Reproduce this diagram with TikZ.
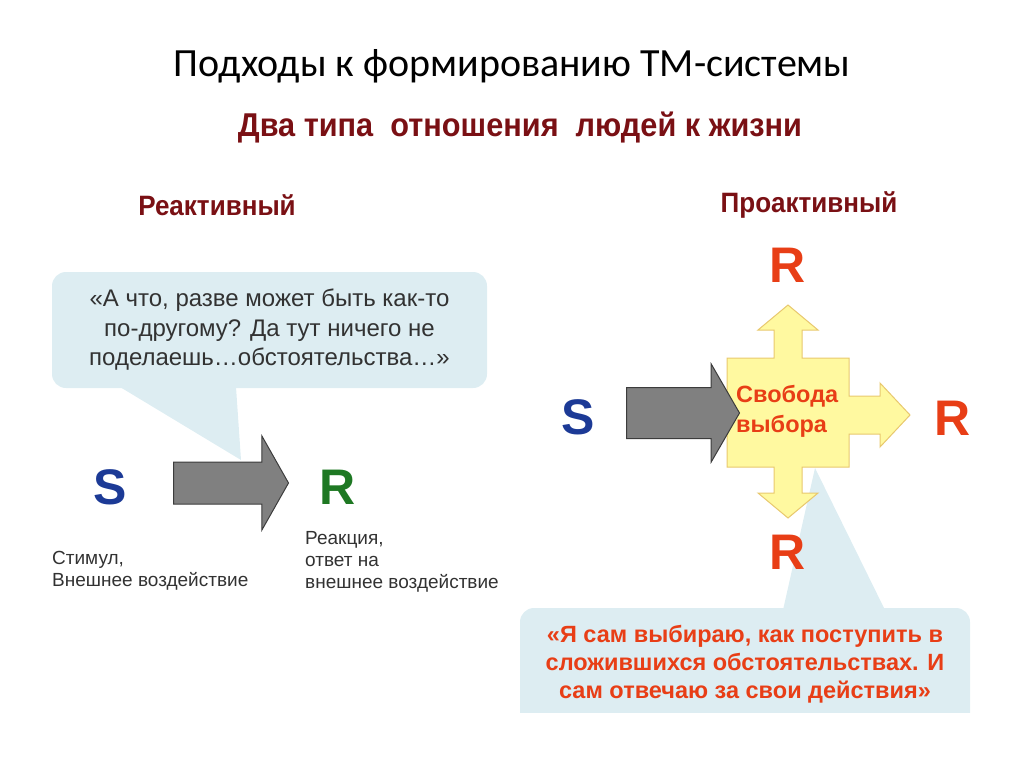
\documentclass[tikz,border=0pt]{standalone}
\usepackage{fontspec}
\setmainfont{Liberation Sans}
\newfontfamily\titlefont{Carlito}
\newfontfamily\narrowfont[FakeStretch=0.93]{Liberation Sans}
\usepackage{tikz}
\usetikzlibrary{shapes.arrows}
\usetikzlibrary{positioning}
\definecolor{bubbleblue}{RGB}{221,237,242}
\definecolor{arrowgray}{RGB}{128,128,128}
\definecolor{arrowedge}{RGB}{60,60,60}
\definecolor{crossyellow}{RGB}{255,249,160}
\definecolor{crossedge}{RGB}{232,200,110}
\definecolor{sblue}{RGB}{28,58,150}
\definecolor{rgreen}{RGB}{30,120,35}
\definecolor{rred}{RGB}{232,62,22}
\definecolor{headred}{RGB}{122,16,20}
\definecolor{textgray}{RGB}{50,50,50}
\newcommand{\fs}[2]{\fontsize{#1}{#2}\selectfont}

\begin{document}
\begin{tikzpicture}[x=1pt,y=-1pt,
		letter/.style={font=\fs{50}{50}\bfseries, inner sep=0pt},
		subhead/.style={font=\narrowfont\bfseries\fs{28}{30}, text=headred, inner sep=0pt},
		caption/.style={font=\fs{19}{22}, text=textgray, align=left, inner sep=0pt},
		grayarrow/.style={single arrow, draw=arrowedge, fill=arrowgray, line width=1pt, inner xsep=0pt, minimum width=0pt, shape border rotate=0}]
		\useasboundingbox (0,0) rectangle (1024,767);

		% Title
		\node[font=\titlefont\fs{40}{46}] (title) at (512,66) {Подходы к формированию ТМ-системы};
		\node[font=\narrowfont\bfseries\fs{33}{36}, text=headred] (types) at (520,128) {Два типа\ \ отношения\ \ людей к жизни};
		\node[subhead] (reactive) at (217,205) {Реактивный};
		\node[subhead] (proactive) at (809,205) {Проактивный};

		% Reactive side
		\node[fill=bubbleblue, rounded corners=14pt, minimum width=435, minimum height=116, align=center,
			font=\fs{24}{29.5}, text=textgray] (quote_re) at (269.5,330) {«А что, разве может быть как-то\\по-другому? Да тут ничего не\\поделаешь…обстоятельства…»};
		\coordinate (tail_re) at (241,460);
		\fill[bubbleblue] (120,387) -- (tail_re) -- (236,387) -- cycle;

		\node[letter, text=sblue] (S_re) at (110,487) {S};
		\node[letter, text=rgreen] (R_re) at (338,487) {R};
		\node[grayarrow, inner ysep=20.5, minimum height=115, single arrow head extend=26, single arrow tip angle=121,
			anchor=tail] (arrow_re) at (173,483) {};

		\node[caption, anchor=north west] (S_re_label) at (52,551) {Стимул,\\Внешнее воздействие};
		\node[caption, anchor=north west] (R_re_label) at (305,531) {Реакция,\\ответ на\\внешнее воздействие};

		% Proactive side
		\begin{scope}
			\clip (0,0) rectangle (1024,712);
			\node[fill=bubbleblue, rounded corners=14pt, minimum width=450, minimum height=124] (quote_pro) at (745,670) {};
		\end{scope}
		\node[align=center, font=\bfseries\fs{23.5}{28}, text=rred] (quote_pro_text) at (745,664) {«Я сам выбираю, как поступить в\\сложившихся обстоятельствах. И\\сам отвечаю за свои действия»};
		\coordinate (tail_pro) at (815,468);
		\fill[bubbleblue] (783,610) -- (tail_pro) -- (885,610) -- cycle;

		\draw[fill=crossyellow, draw=crossedge, line width=1pt] (727,358) -- (774,358) -- (774,330) -- (758,330) -- (788,305)
			-- (818,330) -- (802,330) -- (802,358) -- (849,358) -- (849,396) -- (880,396) -- (880,383) -- (910,415)
			-- (880,447) -- (880,434) -- (849,434) -- (849,467) -- (802,467) -- (802,493) -- (818,493) -- (788,518)
			-- (758,493) -- (774,493) -- (774,467) -- (727,467) -- cycle;

		\node[letter, text=sblue] (S_pro) at (578,417) {S};
		\node[grayarrow, inner ysep=25, minimum height=113, single arrow head extend=23.5, single arrow tip angle=120,
			anchor=tail] (arrow_pro) at (626,413) {};
		\node[align=left, anchor=west, font=\bfseries\fs{23.5}{30}, text=rred, inner sep=0pt] (choice) at (736,411) {Свобода\\выбора};

		\node[letter, text=rred] (R_up) at (788,265) {R};
		\node[letter, text=rred] (R_right) at (953,418) {R};
		\node[letter, text=rred] (R_down) at (788,552) {R};
	\end{tikzpicture}
\end{document}
